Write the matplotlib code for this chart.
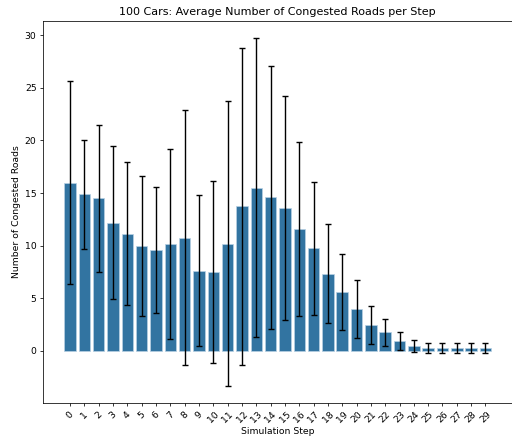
import numpy as np
import matplotlib
matplotlib.use("Agg")
import matplotlib.pyplot as plt

# Values
steps = list(range(30))
mean_congested = [16.0, 14.9, 14.5, 12.2, 11.15, 10.0, 9.6, 10.15, 10.75, 7.6,
                  7.5, 10.2, 13.75, 15.5, 14.6, 13.6, 11.6, 9.75, 7.35, 5.55,
                  3.95, 2.45, 1.75, 0.95, 0.47, 0.25, 0.25, 0.25, 0.25, 0.25]
std_congested = [9.62, 5.19, 6.98, 7.25, 6.83, 6.67, 6.0, 9.04, 12.13, 7.17,
                 8.67, 13.51, 15.08, 14.21, 12.5, 10.67, 8.29, 6.3, 4.7, 3.61,
                 2.74, 1.79, 1.3, 0.86, 0.6, 0.49, 0.49, 0.49, 0.49, 0.49]

plt.rcParams['font.size'] = 6.7
plt.rcParams['axes.linewidth'] = 0.55
plt.rcParams['xtick.major.width'] = 0.55
plt.rcParams['ytick.major.width'] = 0.55
plt.rcParams['xtick.major.size'] = 2.4
plt.rcParams['ytick.major.size'] = 2.4
plt.rcParams['xtick.major.pad'] = 2.3
plt.rcParams['ytick.major.pad'] = 2.3

fig = plt.figure(figsize=(5.12, 4.38), dpi=100)
ax = fig.add_axes([0.084, 0.08, 0.917, 0.872])

ax.bar(steps, mean_congested, yerr=std_congested, capsize=2.2,
       color='#3274a1', edgecolor='#b8d0e4', linewidth=0.5,
       error_kw={'elinewidth': 1.0, 'capthick': 1.0, 'ecolor': 'black'})

ax.set_xticks(steps)
ax.set_xticklabels([str(s) for s in steps], rotation=45)
ax.set_xlabel('Simulation Step', labelpad=2)
ax.set_ylabel('Number of Congested Roads', labelpad=3)
ax.set_title('100 Cars: Average Number of Congested Roads per Step',
             fontsize=8, pad=4)

fig.savefig('out.png', dpi=100)
